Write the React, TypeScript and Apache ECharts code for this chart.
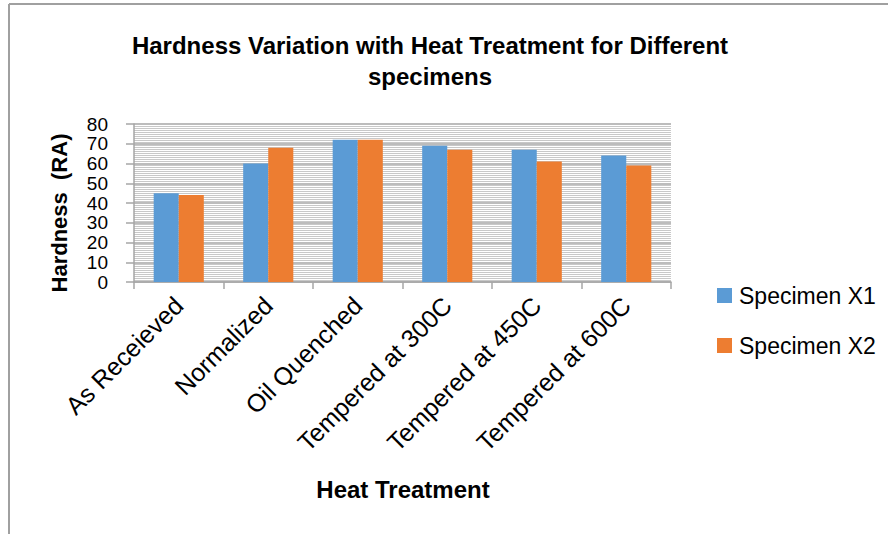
import React, { useEffect, useRef } from "react";
import * as echarts from "echarts";

const categories = [
  "As Receieved",
  "Normalized",
  "Oil Quenched",
  "Tempered at 300C",
  "Tempered at 450C",
  "Tempered at 600C",
];
const specimenX1 = [45, 60, 72, 69, 67, 64];
const specimenX2 = [44, 68, 72, 67, 61, 59];
const seriesNames = ["Specimen X1", "Specimen X2"];
const titleLines = ["Hardness Variation with Heat Treatment for Different", "specimens"];
const yAxisTitle = "Hardness  (RA)";
const xAxisTitle = "Heat Treatment";

const FONT = "'Liberation Sans', Arial, sans-serif";

export default function App() {
  const ref = useRef<HTMLDivElement>(null);
  useEffect(() => {
    if (!ref.current) return;
    const chart = echarts.init(ref.current, undefined, { renderer: "svg" });
    chart.setOption({
      animation: false,
      backgroundColor: "#ffffff",
      textStyle: { fontFamily: FONT },
      grid: { left: 134, right: 217, top: 124, bottom: 252, containLabel: false },
      legend: {
        orient: "vertical",
        left: 712,
        top: 279,
        itemWidth: 15,
        itemHeight: 15,
        itemGap: 27,
        icon: "rect",
        data: seriesNames,
        textStyle: { fontSize: 23, color: "#000", fontFamily: FONT, padding: [0, 0, 0, 2] },
      },
      xAxis: {
        type: "category",
        data: categories,
        axisLine: { lineStyle: { color: "#a6a6a6", width: 1.5 } },
        axisTick: { show: true, length: 7, lineStyle: { color: "#a6a6a6", width: 1.5 } },
        axisLabel: { rotate: 45, fontSize: 25, color: "#000", margin: 19, fontFamily: FONT, interval: 0 },
        splitLine: { show: false },
      },
      yAxis: {
        type: "value",
        min: 0,
        max: 80,
        interval: 10,
        axisLine: { show: true, lineStyle: { color: "#a6a6a6", width: 1.5 } },
        axisTick: { show: true, length: 8, lineStyle: { color: "#a6a6a6", width: 1.5 } },
        axisLabel: {
          fontSize: 19,
          lineHeight: 17,
          color: "#000",
          margin: 26,
          fontFamily: FONT,
          showMinLabel: true,
          showMaxLabel: true,
          hideOverlap: false,
        },
        splitLine: { show: true, lineStyle: { color: "#a6a6a6", width: 1.5 } },
        minorTick: { show: false, splitNumber: 10 },
        minorSplitLine: { show: true, lineStyle: { color: "#c8c8c8", width: 1 } },
      },
      series: [
        {
          name: seriesNames[0],
          type: "bar",
          data: specimenX1,
          itemStyle: { color: "#5b9bd5" },
          barGap: "0%",
          barCategoryGap: "44%",
        },
        {
          name: seriesNames[1],
          type: "bar",
          data: specimenX2,
          itemStyle: { color: "#ed7d31" },
          barGap: "0%",
          barCategoryGap: "44%",
        },
      ],
      graphic: [
        {
          type: "line",
          shape: { x1: 9, y1: 4, x2: 888, y2: 4 },
          style: { stroke: "#a0a0a0", lineWidth: 2 },
        },
        {
          type: "line",
          shape: { x1: 9, y1: 4, x2: 9, y2: 534 },
          style: { stroke: "#a0a0a0", lineWidth: 2 },
        },
        {
          type: "text",
          x: 430,
          y: 45,
          style: {
            text: titleLines[0],
            fontSize: 24,
            fontWeight: "bold",
            fontFamily: FONT,
            fill: "#000",
            align: "center",
            verticalAlign: "middle",
          },
        },
        {
          type: "text",
          x: 430,
          y: 76,
          style: {
            text: titleLines[1],
            fontSize: 24,
            fontWeight: "bold",
            fontFamily: FONT,
            fill: "#000",
            align: "center",
            verticalAlign: "middle",
          },
        },
        {
          type: "text",
          x: 59,
          y: 213,
          rotation: Math.PI / 2,
          style: {
            text: yAxisTitle,
            fontSize: 22,
            fontWeight: "bold",
            fontFamily: FONT,
            fill: "#000",
            align: "center",
            verticalAlign: "middle",
          },
        },
        {
          type: "text",
          x: 403,
          y: 489,
          style: {
            text: xAxisTitle,
            fontSize: 24,
            fontWeight: "bold",
            fontFamily: FONT,
            fill: "#000",
            align: "center",
            verticalAlign: "middle",
          },
        },
      ],
    });
    return () => chart.dispose();
  }, []);
  return (
    <div
      ref={ref}
      style={{ position: "fixed", left: 0, top: 0, width: 888, height: 534 }}
    />
  );
}
